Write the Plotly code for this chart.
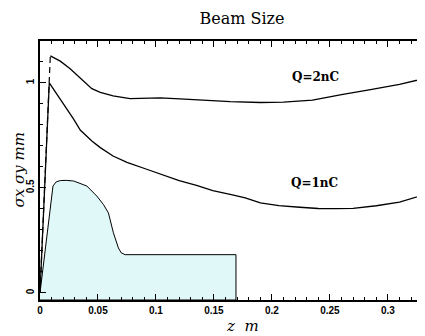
import plotly.graph_objects as go

# ---- data ----
q2_z = [0, 0.0089, 0.0175, 0.026, 0.0347, 0.0447, 0.052, 0.063, 0.0777, 0.092, 0.1035,
        0.1207, 0.149, 0.164, 0.19, 0.21, 0.235, 0.26, 0.285, 0.31, 0.332]
q2_s = [0, 1.129, 1.104, 1.068, 1.025, 0.973, 0.955, 0.939, 0.925, 0.927, 0.929,
        0.924, 0.915, 0.911, 0.907, 0.909, 0.918, 0.945, 0.968, 0.993, 1.022]

q1_z = [0, 0.008, 0.029, 0.0347, 0.0447, 0.052, 0.063, 0.075, 0.092, 0.11, 0.12,
        0.135, 0.149, 0.165, 0.177, 0.19, 0.206, 0.224, 0.24, 0.255, 0.27, 0.29, 0.31, 0.332]
q1_s = [0, 1.0, 0.828, 0.776, 0.724, 0.692, 0.652, 0.622, 0.589, 0.556, 0.535,
        0.512, 0.487, 0.468, 0.453, 0.429, 0.416, 0.408, 0.402, 0.401, 0.403, 0.415, 0.432, 0.469]

field_z = [0, 0.0112, 0.014, 0.0175, 0.0226, 0.029, 0.0404, 0.049, 0.0547, 0.059,
           0.0633, 0.0676, 0.070, 0.0734, 0.169]
field_s = [0, 0.509, 0.529, 0.535, 0.536, 0.533, 0.509, 0.461, 0.421, 0.381,
           0.286, 0.214, 0.191, 0.182, 0.182]

labels = ["Q=2nC", "Q=1nC"]
label_z = [0.238, 0.237]
label_s = [1.03, 0.522]

x_tick_vals = [0, 0.05, 0.1, 0.15, 0.2, 0.25, 0.3]
x_tick_text = ["0", "0.05", "0.1", "0.15", "0.2", "0.25", "0.3"]
y_tick_vals = [0, 0.5, 1]
y_tick_text = ["0", "0.5", "1"]

x_range = [0, 0.332]
y_range = [-0.034, 1.2]

fig = go.Figure()

# shaded profile, closed down to the bottom of the axis
fig.add_trace(go.Scatter(
    x=field_z + [field_z[-1], field_z[0]],
    y=field_s + [y_range[0], y_range[0]],
    mode="lines", fill="toself", fillcolor="#e0f8f8",
    line=dict(color="black", width=1), hoverinfo="skip", showlegend=False))

# Q=1nC
fig.add_trace(go.Scatter(x=q1_z, y=q1_s, mode="lines",
                         line=dict(color="black", width=1.3), showlegend=False))
# Q=2nC: dashed initial rise, then solid
fig.add_trace(go.Scatter(x=q2_z[:2], y=q2_s[:2], mode="lines",
                         line=dict(color="black", width=1.2, dash="6px,4px"), showlegend=False))
fig.add_trace(go.Scatter(x=q2_z[1:], y=q2_s[1:], mode="lines",
                         line=dict(color="black", width=1.3), showlegend=False))

for t, zx, sy in zip(labels, label_z, label_s):
    fig.add_annotation(x=zx, y=sy, text=t, showarrow=False,
                       font=dict(family="DejaVu Serif", size=12, color="black", weight="bold"))

# axis titles as paper annotations
fig.add_annotation(xref="paper", yref="paper", x=0.525, y=-0.139, yanchor="bottom",
                   text="z  m", showarrow=False, borderpad=0,
                   font=dict(family="DejaVu Serif", size=15, color="black", style="italic"))
fig.add_annotation(xref="paper", yref="paper", x=-0.083, y=0.5, xanchor="left",
                   text="σx σy mm", showarrow=False, textangle=-90, borderpad=0,
                   font=dict(family="DejaVu Serif", size=15, color="black", style="italic"))

tickfont = dict(family="Liberation Sans", size=10, color="black", weight="bold")

# the page body adds an 8px offset, so the figure is drawn 8px smaller
fig.update_layout(
    width=417, height=328,
    margin=dict(l=32, r=0, t=33, b=36),
    paper_bgcolor="white", plot_bgcolor="white",
    title=dict(text="Beam Size", x=0.561, xanchor="center", y=0.969, yanchor="middle",
               font=dict(family="DejaVu Serif", size=16, color="black")),
    xaxis=dict(range=x_range, showgrid=False, zeroline=False, automargin=False,
               showline=True, linecolor="black", linewidth=1.5, mirror="ticks",
               ticks="inside", ticklen=6, tickcolor="black", tickwidth=1,
               tickmode="array", tickvals=x_tick_vals, ticktext=x_tick_text,
               tickfont=tickfont,
               minor=dict(dtick=0.01, ticks="inside", ticklen=3, tickcolor="black")),
    yaxis=dict(range=y_range, showgrid=False, zeroline=False, automargin=False,
               showline=True, linecolor="black", linewidth=1.5, mirror="ticks",
               ticks="inside", ticklen=6, tickcolor="black", tickwidth=1,
               tickmode="array", tickvals=y_tick_vals, ticktext=y_tick_text,
               tickangle=-90, tickfont=tickfont,
               minor=dict(dtick=0.1, ticks="inside", ticklen=3, tickcolor="black")),
)

fig.write_html("out.html")
